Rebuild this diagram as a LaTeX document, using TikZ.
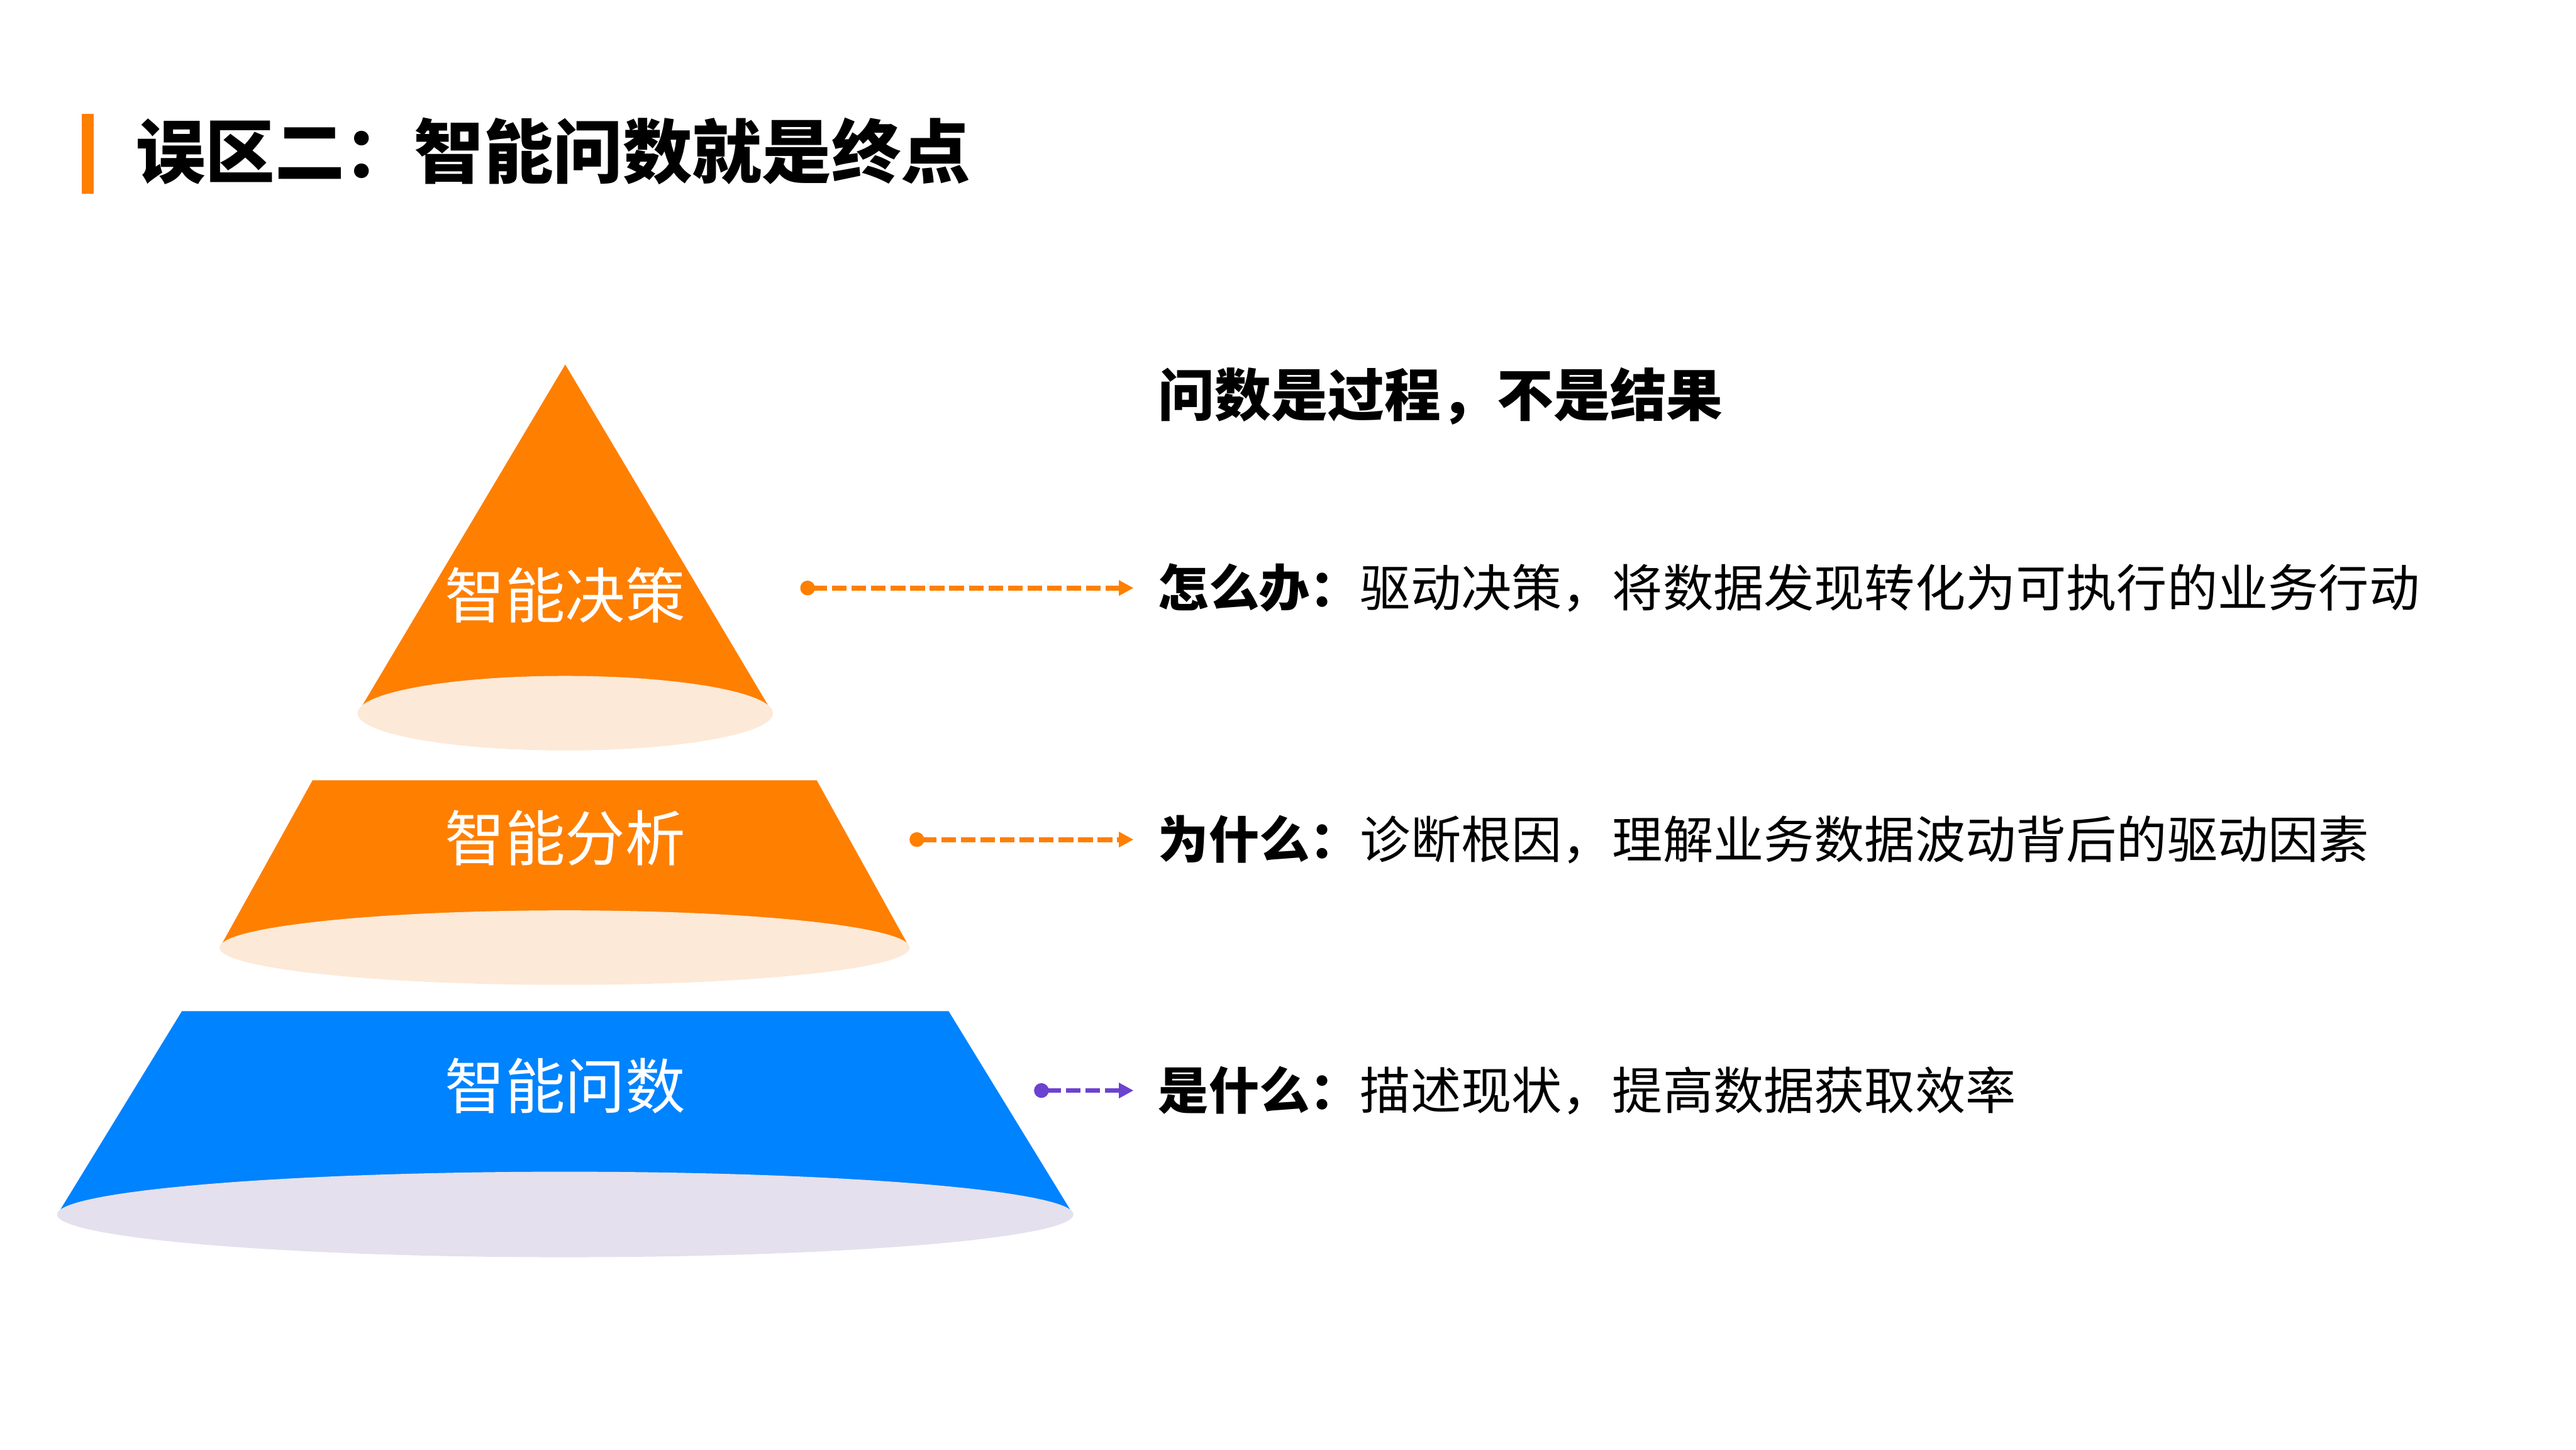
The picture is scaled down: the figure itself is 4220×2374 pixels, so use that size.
\documentclass[tikz,border=0pt]{standalone}
\usepackage{fontspec}
\setmainfont{Noto Sans CJK SC}
\usepackage{xcolor}
\usepackage{tikz}
\usetikzlibrary{arrows.meta,positioning}

\definecolor{mistOrange}{HTML}{FF7F00}
\definecolor{mistBlue}{HTML}{0083FF}
\definecolor{mistPurple}{HTML}{6C42D0}
\definecolor{mistPeach}{HTML}{FDE9D7}
\definecolor{mistLilac}{HTML}{E5E0ED}

\begin{document}
\begin{tikzpicture}[x=0.01cm,y=-0.01cm,
  lvl/.style={text=white,inner sep=0pt,font=\fontsize{28pt}{32pt}\selectfont},
  desc/.style={anchor=west,inner sep=0pt,font=\fontsize{23.5pt}{28pt}\selectfont},
  link/.style={dash pattern=on 0.24cm off 0.08cm,line width=0.08cm,shorten >=0.4cm,
    {Circle[length=0.24cm,width=0.24cm]}-{Triangle[length=0.24cm,width=0.24cm]}}]
\useasboundingbox (0,0) rectangle (4220,2374);
% title
\fill[mistOrange] (134,186) rectangle (153,317);
\node[anchor=west,inner sep=0pt,font=\fontsize{32.4pt}{36pt}\selectfont\bfseries] (title) at (222,248) {误区二：智能问数就是终点};
% pyramid
\fill[mistOrange] (926,597) -- (586,1168) -- (1266,1168) -- cycle;
\fill[mistPeach] (926,1168) ellipse [x radius=3.40cm,y radius=0.61cm];
\fill[mistOrange] (512,1278) -- (1338,1278) -- (1490,1552) -- (360,1552) -- cycle;
\fill[mistPeach] (925,1552) ellipse [x radius=5.65cm,y radius=0.61cm];
\fill[mistBlue] (298,1656) -- (1554,1656) -- (1758,1989) -- (94,1989) -- cycle;
\fill[mistLilac] (926,1989) ellipse [x radius=8.32cm,y radius=0.70cm];
\node[lvl] (top) at (926,975) {智能决策};
\node[lvl] (mid) at (926,1372) {智能分析};
\node[lvl] (base) at (926,1778) {智能问数};
% texts
\node[desc,font=\fontsize{26.3pt}{30pt}\selectfont\bfseries] (head) at (1897,649) {问数是过程，不是结果};
\node[desc] (how) at (1897,963) {\textbf{怎么办：}驱动决策，将数据发现转化为可执行的业务行动};
\node[desc] (why) at (1897,1375) {\textbf{为什么：}诊断根因，理解业务数据波动背后的驱动因素};
\node[desc] (what) at (1897,1786) {\textbf{是什么：}描述现状，提高数据获取效率};
% links
\coordinate (d1) at (1311,963);
\coordinate (d2) at (1490,1375);
\coordinate (d3) at (1694,1786);
\draw[link,mistOrange] (d1) -- (how.west);
\draw[link,mistOrange] (d2) -- (why.west);
\draw[link,mistPurple] (d3) -- (what.west);
\end{tikzpicture}
\end{document}
